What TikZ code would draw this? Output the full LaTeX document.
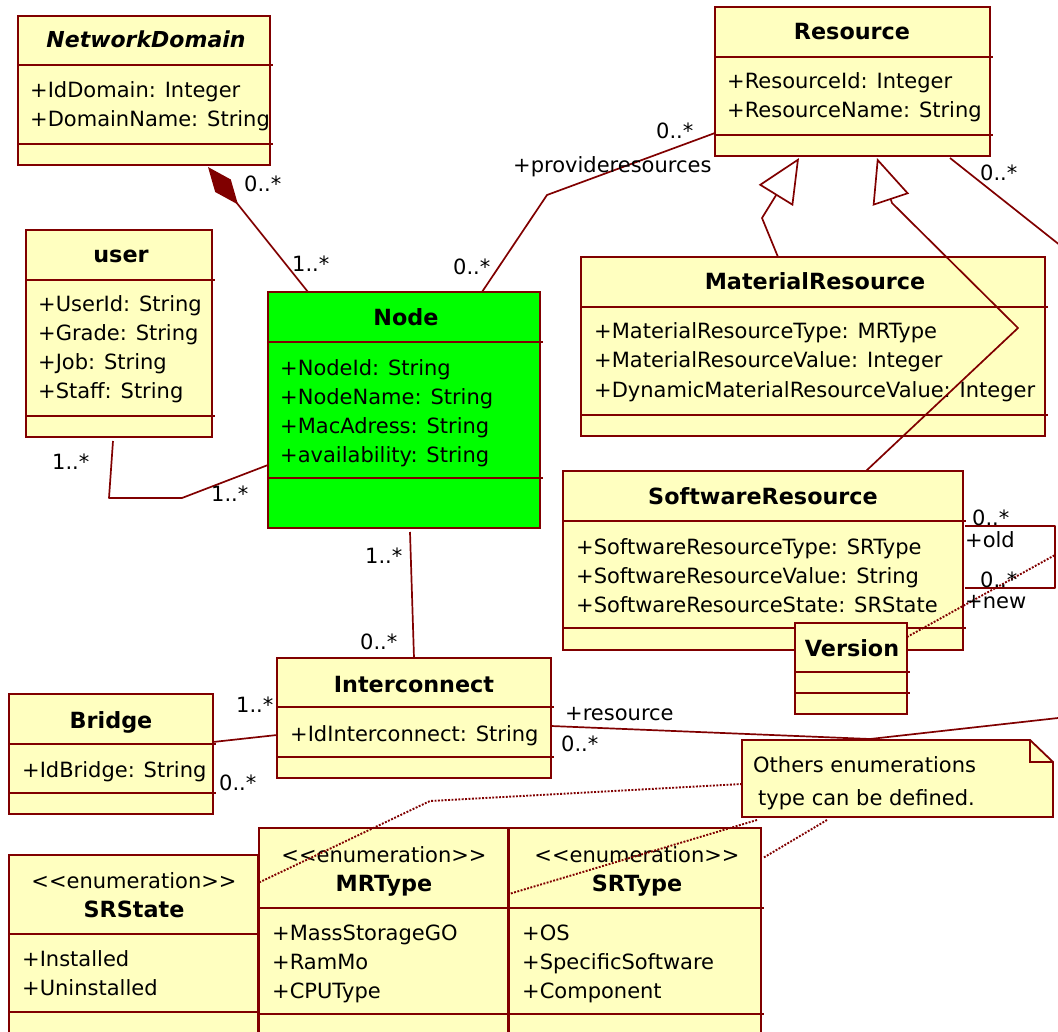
\documentclass[tikz,border=0pt]{standalone}
\usepackage{fontspec}
\setmainfont{DejaVu Sans}
\usetikzlibrary{arrows.meta,calc}
\definecolor{dred}{HTML}{800000}
\definecolor{cfill}{HTML}{FFFFC0}
\definecolor{gfill}{HTML}{00FF00}
\newcommand{\umlbox}[8]{%
  \node[box, fill=#8, minimum width={(#4-#2)*1pt}, minimum height={(#5-#3)*1pt}] (#1) at (#2,#3) {};
  \draw[dred, line width=1.8pt] (#2,#6) -- (#4+3,#6) (#2,#7) -- (#4+3,#7);}
\newcommand{\enumst}{{<}{<}enumeration{>}{>}}
\begin{document}
\begin{tikzpicture}[x=1pt,y=-1pt,
  box/.style={draw=dred, line width=1.8pt, inner sep=0pt, outer sep=0pt, anchor=north west},
  attr/.style={font=\fontsize{21}{25}\selectfont, inner sep=0pt, anchor=base west, text=black},
  ttl/.style={font=\fontsize{22.3}{25}\selectfont\bfseries, inner sep=0pt, anchor=base, text=black},
  stereo/.style={font=\fontsize{21}{25}\selectfont, inner sep=0pt, anchor=base, text=black},
  conn/.style={draw=dred, line width=1.7pt, line join=round},
  dotline/.style={draw=dred, line width=1.9pt, dash pattern=on 1.9pt off 1.5pt}]
\useasboundingbox (0,0) rectangle (1058,1032);
\clip (0,0) rectangle (1058,1032);

% ---------- classes ----------
\umlbox{nd}{18}{16}{270}{165}{65}{144}{cfill}
\umlbox{res}{715}{7}{990}{156}{57}{135}{cfill}
\umlbox{user}{26}{230}{212}{437}{280}{416}{cfill}
\umlbox{node}{268}{292}{540}{528}{342}{478}{gfill}
\umlbox{mr}{581}{257}{1045}{436}{307}{415}{cfill}
\umlbox{sr}{563}{471}{963}{650}{521}{628}{cfill}
\umlbox{ver}{795}{623}{907}{714}{672}{693}{cfill}
\umlbox{ic}{277}{658}{551}{778}{707}{757}{cfill}
\umlbox{br}{9}{694}{213}{814}{744}{793}{cfill}
\umlbox{srs}{9}{855}{258}{1045}{934}{1012}{cfill}
\umlbox{mrt}{259}{828}{508}{1045}{908}{1014}{cfill}
\umlbox{srt}{509}{828}{761}{1045}{908}{1014}{cfill}

% note
\node[inner sep=0pt, outer sep=0pt, anchor=north west, minimum width=311pt, minimum height=77pt] (note) at (742,740) {};
\draw[dred, line width=1.8pt, fill=cfill] (note.north west) -- ($(note.north east)+(-23,0)$) -- ($(note.north east)+(0,22)$) -- (note.south east) -- (note.south west) -- cycle;
\draw[dred, line width=1.8pt] ($(note.north east)+(-23,0)$) -- ($(note.north east)+(-23,22)$) -- ($(note.north east)+(0,22)$);

% ---------- texts ----------
\node[ttl, font=\fontsize{22}{25}\selectfont\bfseries\itshape] (ndT) at (146,48) {NetworkDomain};
\node[attr] (ndA1) at (30,98) {+IdDomain: Integer};
\node[attr] (ndA2) at (30,127) {+DomainName: String};

\node[ttl] (resT) at (852,40) {Resource};
\node[attr] (resA1) at (727,89) {+ResourceId: Integer};
\node[attr] (resA2) at (727,118) {+ResourceName: String};

\node[ttl] (userT) at (121,263) {user};
\node[attr] (userA1) at (38,312) {+UserId: String};
\node[attr] (userA2) at (38,341) {+Grade: String};
\node[attr] (userA3) at (38,370) {+Job: String};
\node[attr] (userA4) at (38,399) {+Staff: String};

\node[ttl] (nodeT) at (406,326) {Node};
\node[attr] (nodeA1) at (280,375) {+NodeId: String};
\node[attr] (nodeA2) at (280,404) {+NodeName: String};
\node[attr] (nodeA3) at (280,433) {+MacAdress: String};
\node[attr] (nodeA4) at (280,462) {+availability: String};

\node[ttl] (mrT) at (815,290) {MaterialResource};
\node[attr] (mrA1) at (594,339) {+MaterialResourceType: MRType};
\node[attr] (mrA2) at (594,368) {+MaterialResourceValue: Integer};
\node[attr] (mrA3) at (594,397) {+DynamicMaterialResourceValue: Integer};

\node[ttl] (srT) at (763,504) {SoftwareResource};
\node[attr] (srA1) at (576,554) {+SoftwareResourceType: SRType};
\node[attr] (srA2) at (576,583) {+SoftwareResourceValue: String};
\node[attr] (srA3) at (576,612) {+SoftwareResourceState: SRState};

\node[ttl] (verT) at (852,656) {Version};

\node[ttl] (icT) at (414,692) {Interconnect};
\node[attr] (icA1) at (290,741) {+IdInterconnect: String};

\node[ttl] (brT) at (111,728) {Bridge};
\node[attr] (brA1) at (22,777) {+IdBridge: String};

\node[stereo] (srsS) at (134,888) {\enumst};
\node[ttl] (srsT) at (134,917) {SRState};
\node[attr] (srsA1) at (22,966) {+Installed};
\node[attr] (srsA2) at (22,995) {+Uninstalled};

\node[stereo] (mrtS) at (384,862) {\enumst};
\node[ttl] (mrtT) at (384,891) {MRType};
\node[attr] (mrtA1) at (272,940) {+MassStorageGO};
\node[attr] (mrtA2) at (272,969) {+RamMo};
\node[attr] (mrtA3) at (272,998) {+CPUType};

\node[stereo] (srtS) at (637,862) {\enumst};
\node[ttl] (srtT) at (637,891) {SRType};
\node[attr] (srtA1) at (522,940) {+OS};
\node[attr] (srtA2) at (522,969) {+SpecificSoftware};
\node[attr] (srtA3) at (522,998) {+Component};

\node[attr] (noteA1) at (753,772) {Others enumerations};
\node[attr] (noteA2) at (758,805) {type can be defined.};

% ---------- connectors ----------
\draw[conn, -{Diamond[length=48pt, width=20pt, fill=dred]}] ($(node.north west)+(40,0)$) -- ($(nd.south west)+(190,2)$);
\draw[conn] ($(node.north west)+(214,0)$) -- (547,195) -- ($(res.north west)+(0,126)$);
\draw[conn] ($(user.south west)+(87,4)$) -- (109,498) -- (182,498) -- ($(node.north west)+(0,173)$);
\draw[conn] ($(node.south west)+(142,4)$) -- ($(ic.north west)+(137,0)$);
\draw[conn] ($(br.north east)+(0,48)$) -- ($(ic.north west)+(0,77)$);
\draw[conn, -{Triangle[open, length=44pt, width=40pt]}] ($(mr.north west)+(197,0)$) -- (762,218) -- ($(res.south west)+(84,2)$);
\draw[conn, -{Triangle[open, length=44pt, width=38pt]}] ($(sr.north west)+(303,0)$) -- (1018,328) -- (892,203) -- ($(res.south west)+(162,2)$);
\draw[conn] ($(res.south west)+(235,2)$) -- (1085,265) -- (1085,715) -- (870,739) -- ($(ic.north east)+(0,68)$);
% self association
\coordinate (selfmid) at (1055,555);
\draw[conn] ($(sr.north east)+(2,55)$) -- (1055,526) -- (1055,588) -- ($(sr.north east)+(2,117)$);
\draw[dotline] ($(ver.north east)+(0,14)$) -- (selfmid);
% note links
\draw[dotline] ($(note.north west)+(0,44)$) -- (430,801) -- ($(srs.north east)+(0,28)$);
\draw[dotline] ($(note.south west)+(15,3)$) -- ($(mrt.north east)+(1,66)$);
\draw[dotline] ($(note.south west)+(85,3)$) -- ($(srt.north east)+(2,30)$);

% ---------- multiplicities and roles ----------
\node[attr] (m1) at (244,192) {0..*};
\node[attr] (m2) at (292,272) {1..*};
\node[attr] (m3) at (453,275) {0..*};
\node[attr] (m4) at (656,139) {0..*};
\node[attr] (r1) at (513,173) {+provideresources};
\node[attr] (m5) at (980,181) {0..*};
\node[attr] (m6) at (52,469) {1..*};
\node[attr] (m7) at (211,501) {1..*};
\node[attr] (m8) at (365,563) {1..*};
\node[attr] (m9) at (360,649) {0..*};
\node[attr] (m10) at (236,712) {1..*};
\node[attr] (m11) at (219,790) {0..*};
\node[attr] (r2) at (565,720) {+resource};
\node[attr] (m12) at (561,751) {0..*};
\node[attr] (m13) at (972,525) {0..*};
\node[attr] (r3) at (965,547) {+old};
\node[attr] (m14) at (980,587) {0..*};
\node[attr] (r4) at (965,608) {+new};
\end{tikzpicture}
\end{document}
